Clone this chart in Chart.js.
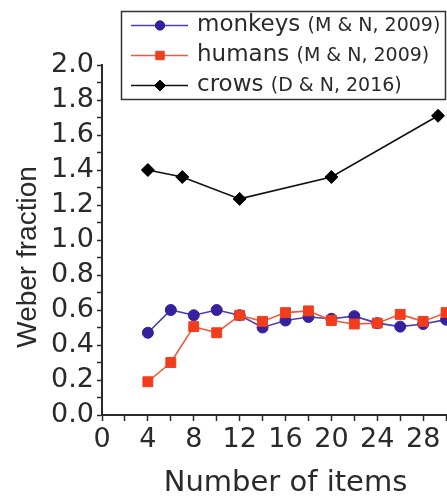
<!DOCTYPE html>
<html>
<head>
<meta charset="utf-8">
<script src="https://cdn.jsdelivr.net/npm/chart.js@4/dist/chart.umd.min.js"></script>
<style>
  html, body { margin: 0; padding: 0; overflow: hidden; background: #fff; width: 447px; height: 499px; }
  canvas { display: block; }
</style>
</head>
<body>
<canvas id="c" width="500" height="499"></canvas>
<script>
// ---- data ----
const seriesNames   = ['monkeys', 'humans', 'crows'];
const seriesSources = ['(M & N, 2009)', '(M & N, 2009)', '(D & N, 2016)'];

const monkeysX = [4, 6, 8, 10, 12, 14, 16, 18, 20, 22, 24, 26, 28, 30];
const monkeysY = [0.47, 0.60, 0.57, 0.60, 0.57, 0.50, 0.54, 0.56, 0.55, 0.565, 0.525, 0.505, 0.52, 0.545];

const humansX = [4, 6, 8, 10, 12, 14, 16, 18, 20, 22, 24, 26, 28, 30];
const humansY = [0.19, 0.30, 0.505, 0.47, 0.57, 0.535, 0.585, 0.595, 0.54, 0.52, 0.525, 0.575, 0.535, 0.585];

const crowsX = [4, 7, 12, 20, 29.3];
const crowsY = [1.40, 1.36, 1.235, 1.36, 1.71];

const xTickValues = [0, 4, 8, 12, 16, 20, 24, 28, 32];
const yTickValues = [0.0, 0.2, 0.4, 0.6, 0.8, 1.0, 1.2, 1.4, 1.6, 1.8, 2.0];

const axisTitleX = 'Number of items';
const axisTitleY = 'Weber fraction';

// ---- helpers ----
const toPoints = (xs, ys) => xs.map((x, i) => ({ x: x, y: ys[i] }));
const INK = '#2a2a2a';
const BLUE_LINE = '#4b3fae', BLUE_PT = '#37209c';
const RED_LINE = '#ef5a38', RED_PT = '#f23d1c';
const BLACK = '#111111';

const legendPlugin = {
  id: 'boxLegend',
  afterDraw(chart) {
    const ctx = chart.ctx;
    ctx.save();
    // y axis title
    ctx.fillStyle = INK;
    ctx.font = '28px "Liberation Sans", Arial, sans-serif';
    ctx.textAlign = 'center';
    ctx.textBaseline = 'middle';
    ctx.translate(28, 257);
    ctx.rotate(-Math.PI / 2);
    ctx.fillText(axisTitleY, 0, 0);
    ctx.restore();

    ctx.save();
    ctx.strokeStyle = '#333';
    ctx.lineWidth = 1.5;
    ctx.fillStyle = '#fff';
    ctx.fillRect(121, 11, 325, 89);
    ctx.strokeRect(121.5, 11.5, 324, 88);
    const rows = [25.5, 55.5, 85.5];
    const metas = [0, 1, 2];
    metas.forEach((di, i) => {
      const ds = chart.data.datasets[di];
      const y = rows[i];
      ctx.strokeStyle = ds.borderColor;
      ctx.lineWidth = 1.5;
      ctx.beginPath();
      ctx.moveTo(131, y);
      ctx.lineTo(188, y);
      ctx.stroke();
      ctx.fillStyle = ds.pointBackgroundColor;
      ctx.strokeStyle = ds.pointBorderColor;
      ctx.lineWidth = 1;
      if (Chart.helpers && Chart.helpers.drawPoint) {
        Chart.helpers.drawPoint(ctx, { pointStyle: ds.pointStyle, radius: ds.pointRadius * 0.85, rotation: 0, borderWidth: 1 }, 160, y);
      }
      ctx.fillStyle = INK;
      ctx.textAlign = 'left';
      ctx.textBaseline = 'middle';
      ctx.font = '23px "DejaVu Sans", sans-serif';
      ctx.fillText(seriesNames[i], 197, y);
      const w = ctx.measureText(seriesNames[i] + ' ').width;
      ctx.font = '19px "DejaVu Sans", sans-serif';
      ctx.fillText(seriesSources[i], 197 + w, y + 1);
    });
    ctx.restore();
  }
};

new Chart(document.getElementById('c'), {
  type: 'line',
  data: {
    datasets: [
      {
        label: seriesNames[0] + ' ' + seriesSources[0],
        data: toPoints(monkeysX, monkeysY),
        borderColor: BLUE_LINE, borderWidth: 1.6,
        pointStyle: 'circle', pointRadius: 5.5,
        pointBackgroundColor: BLUE_PT, pointBorderColor: BLUE_PT, pointBorderWidth: 1,
        order: 1, clip: false, tension: 0
      },
      {
        label: seriesNames[1] + ' ' + seriesSources[1],
        data: toPoints(humansX, humansY),
        borderColor: RED_LINE, borderWidth: 1.6,
        pointStyle: 'rect', pointRadius: 7,
        pointBackgroundColor: RED_PT, pointBorderColor: RED_PT, pointBorderWidth: 1,
        order: 0, clip: false, tension: 0
      },
      {
        label: seriesNames[2] + ' ' + seriesSources[2],
        data: toPoints(crowsX, crowsY),
        borderColor: BLACK, borderWidth: 1.6,
        pointStyle: 'rectRot', pointRadius: 6.5,
        pointBackgroundColor: '#000', pointBorderColor: '#000', pointBorderWidth: 1,
        order: 2, clip: false, tension: 0
      }
    ]
  },
  options: {
    responsive: false,
    animation: false,
    devicePixelRatio: 1,
    layout: { padding: { top: 65, right: 31, left: 0, bottom: 0 } },
    plugins: { legend: { display: false }, tooltip: { enabled: false } },
    scales: {
      x: {
        type: 'linear', min: 0, max: 32,
        border: { display: true, color: INK, width: 2 },
        grid: { drawOnChartArea: false, drawTicks: true, tickLength: 6, tickColor: INK, tickWidth: 1.5 },
        ticks: {
          stepSize: 2, autoSkip: false, maxRotation: 0, padding: 3, color: INK,
          font: { family: 'DejaVu Sans', size: 27 },
          callback: v => xTickValues.includes(Math.round(v)) && Math.abs(v - Math.round(v)) < 1e-6 ? String(Math.round(v)) : ''
        },
        title: {
          display: true, text: axisTitleX, color: INK,
          font: { family: 'DejaVu Sans', size: 29, lineHeight: 1 },
          padding: { top: 0, bottom: 1 }
        },
        afterFit: s => { s.height = 84; }
      },
      y: {
        type: 'linear', min: 0, max: 2,
        border: { display: true, color: INK, width: 2 },
        grid: { drawOnChartArea: false, drawTicks: true, tickLength: 5, tickColor: INK, tickWidth: 1.5 },
        ticks: {
          stepSize: 0.1, autoSkip: false, padding: 3, color: INK,
          font: { family: 'DejaVu Sans', size: 27 },
          callback: v => {
            const r = Math.round(v * 10) / 10;
            return yTickValues.some(t => Math.abs(t - r) < 1e-6) ? r.toFixed(1) : '';
          }
        },
        title: { display: false },
        afterFit: s => { s.width = 102; }
      }
    }
  },
  plugins: [legendPlugin]
});
</script>
</body>
</html>
